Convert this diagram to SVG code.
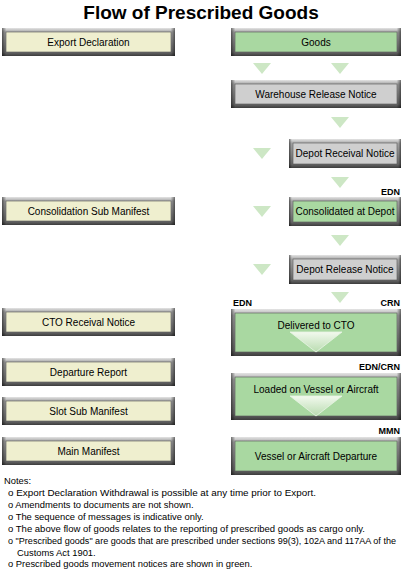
<svg xmlns="http://www.w3.org/2000/svg" width="403" height="575" viewBox="0 0 403 575">
<defs>
<linearGradient id="fv" x1="0" y1="0" x2="0" y2="1">
<stop offset="0" stop-color="#e4e4e4"/><stop offset="0.14" stop-color="#a8a8a8"/><stop offset="0.5" stop-color="#8a8a8a"/><stop offset="0.86" stop-color="#6a6a6a"/><stop offset="1" stop-color="#3c3c3c"/>
</linearGradient>
<linearGradient id="fh" x1="0" y1="0" x2="1" y2="0">
<stop offset="0" stop-color="#000" stop-opacity="0.5"/><stop offset="0.025" stop-color="#000" stop-opacity="0"/><stop offset="0.975" stop-color="#000" stop-opacity="0"/><stop offset="1" stop-color="#000" stop-opacity="0.5"/>
</linearGradient>
<linearGradient id="tri" x1="0" y1="0" x2="0" y2="1">
<stop offset="0" stop-color="#f2f9ee"/><stop offset="1" stop-color="#b9dcb0"/>
</linearGradient>
<style>
.fr{fill:url(#fv)}
.fs{fill:url(#fh)}
.y{fill:#efefcf;stroke:#555;stroke-width:0.6}
.g{fill:#a9d8a1;stroke:#555;stroke-width:0.6}
.k{fill:#cfcfcf;stroke:#555;stroke-width:0.6}
text{font-family:"Liberation Sans",Arial,sans-serif;fill:#000}
.t{font-size:10px;text-anchor:middle}
.lb{font-size:9px;font-weight:bold}
.r{text-anchor:end}
.n{font-size:9.4px}
.st{fill:#cde7c5}
.bt{fill:url(#tri);stroke:#e8f4e4;stroke-width:0.8}
</style>
</defs>
<text x="201" y="19" style="font-size:19px;font-weight:bold" text-anchor="middle">Flow of Prescribed Goods</text>

<g id="export-declaration"><rect class="fr" x="2" y="28" width="173" height="28"/><rect class="fs" x="2" y="28" width="173" height="28"/><rect class="y" x="6" y="32" width="165" height="20"/><text class="t" x="88.5" y="45.5">Export Declaration</text></g>
<g id="consolidation-sub-manifest"><rect class="fr" x="2" y="197" width="173" height="28"/><rect class="fs" x="2" y="197" width="173" height="28"/><rect class="y" x="6" y="201" width="165" height="20"/><text class="t" x="88.5" y="214.5">Consolidation Sub Manifest</text></g>
<g id="cto-receival-notice"><rect class="fr" x="2" y="308" width="173" height="28"/><rect class="fs" x="2" y="308" width="173" height="28"/><rect class="y" x="6" y="312" width="165" height="20"/><text class="t" x="88.5" y="325.5">CTO Receival Notice</text></g>
<g id="departure-report"><rect class="fr" x="2" y="358" width="173" height="28"/><rect class="fs" x="2" y="358" width="173" height="28"/><rect class="y" x="6" y="362" width="165" height="20"/><text class="t" x="88.5" y="375.5">Departure Report</text></g>
<g id="slot-sub-manifest"><rect class="fr" x="2" y="397" width="173" height="28"/><rect class="fs" x="2" y="397" width="173" height="28"/><rect class="y" x="6" y="401" width="165" height="20"/><text class="t" x="88.5" y="414.5">Slot Sub Manifest</text></g>
<g id="main-manifest"><rect class="fr" x="2" y="437" width="173" height="28"/><rect class="fs" x="2" y="437" width="173" height="28"/><rect class="y" x="6" y="441" width="165" height="20"/><text class="t" x="88.5" y="454.5">Main Manifest</text></g>

<g id="goods"><rect class="fr" x="231" y="28" width="170" height="28"/><rect class="fs" x="231" y="28" width="170" height="28"/><rect class="g" x="235" y="32" width="162" height="20"/><text class="t" x="316" y="45.5">Goods</text></g>
<g id="warehouse-release-notice"><rect class="fr" x="231" y="80" width="170" height="28"/><rect class="fs" x="231" y="80" width="170" height="28"/><rect class="k" x="235" y="84" width="162" height="20"/><text class="t" x="316" y="97.5">Warehouse Release Notice</text></g>
<g id="depot-receival-notice"><rect class="fr" x="289" y="139" width="112" height="29"/><rect class="fs" x="289" y="139" width="112" height="29"/><rect class="k" x="293" y="143" width="104" height="21"/><text class="t" x="345" y="157">Depot Receival Notice</text></g>
<g id="consolidated-at-depot"><rect class="fr" x="289" y="197" width="112" height="29"/><rect class="fs" x="289" y="197" width="112" height="29"/><rect class="g" x="293" y="201" width="104" height="21"/><text class="t" x="345" y="215">Consolidated at Depot</text></g>
<g id="depot-release-notice"><rect class="fr" x="289" y="255" width="112" height="29"/><rect class="fs" x="289" y="255" width="112" height="29"/><rect class="k" x="293" y="259" width="104" height="21"/><text class="t" x="345" y="273">Depot Release Notice</text></g>
<g id="delivered-to-cto"><rect class="fr" x="231" y="309" width="170" height="47"/><rect class="fs" x="231" y="309" width="170" height="47"/><rect class="g" x="235" y="313" width="162" height="39"/><polygon class="bt" points="290,332 342,332 316,352"/><text class="t" x="316" y="329">Delivered to CTO</text></g>
<g id="loaded-on-vessel"><rect class="fr" x="231" y="373" width="170" height="47"/><rect class="fs" x="231" y="373" width="170" height="47"/><rect class="g" x="235" y="377" width="162" height="39"/><polygon class="bt" points="290,396 342,396 316,416"/><text class="t" x="316" y="393">Loaded on Vessel or Aircraft</text></g>
<g id="vessel-departure"><rect class="fr" x="231" y="437" width="170" height="38"/><rect class="fs" x="231" y="437" width="170" height="38"/><rect class="g" x="235" y="441" width="162" height="30"/><text class="t" x="316" y="459.5">Vessel or Aircraft Departure</text></g>

<g id="connectors">
<polygon class="st" points="253,63 271,63 262,74"/>
<polygon class="st" points="331,63 349,63 340,74"/>
<polygon class="st" points="331,117 349,117 340,128"/>
<polygon class="st" points="253,148 271,148 262,159"/>
<polygon class="st" points="331,177 349,177 340,188"/>
<polygon class="st" points="253,206 271,206 262,217"/>
<polygon class="st" points="331,235 349,235 340,246"/>
<polygon class="st" points="253,264 271,264 262,275"/>
<polygon class="st" points="331,292 349,292 340,303"/>
</g>

<text class="lb r" x="400" y="195">EDN</text>
<text class="lb" x="233" y="306">EDN</text>
<text class="lb r" x="400" y="306">CRN</text>
<text class="lb r" x="400" y="370">EDN/CRN</text>
<text class="lb r" x="400" y="434">MMN</text>

<g class="notes">
<text class="n" x="4" y="484">Notes:</text>
<text class="n" x="8" y="496" textLength="308" lengthAdjust="spacingAndGlyphs">o Export Declaration Withdrawal is possible at any time prior to Export.</text>
<text class="n" x="8" y="508">o Amendments to documents are not shown.</text>
<text class="n" x="8" y="520">o The sequence of messages is indicative only.</text>
<text class="n" x="8" y="532" textLength="357" lengthAdjust="spacingAndGlyphs">o The above flow of goods relates to the reporting of prescribed goods as cargo only.</text>
<text class="n" x="8" y="544" style="font-size:8.9px" textLength="388" lengthAdjust="spacingAndGlyphs">o "Prescribed goods" are goods that are prescribed under sections 99(3), 102A and 117AA of the</text>
<text class="n" x="17" y="555.5">Customs Act 1901.</text>
<text class="n" x="8" y="567">o Prescribed goods movement notices are shown in green.</text>
</g>
</svg>
